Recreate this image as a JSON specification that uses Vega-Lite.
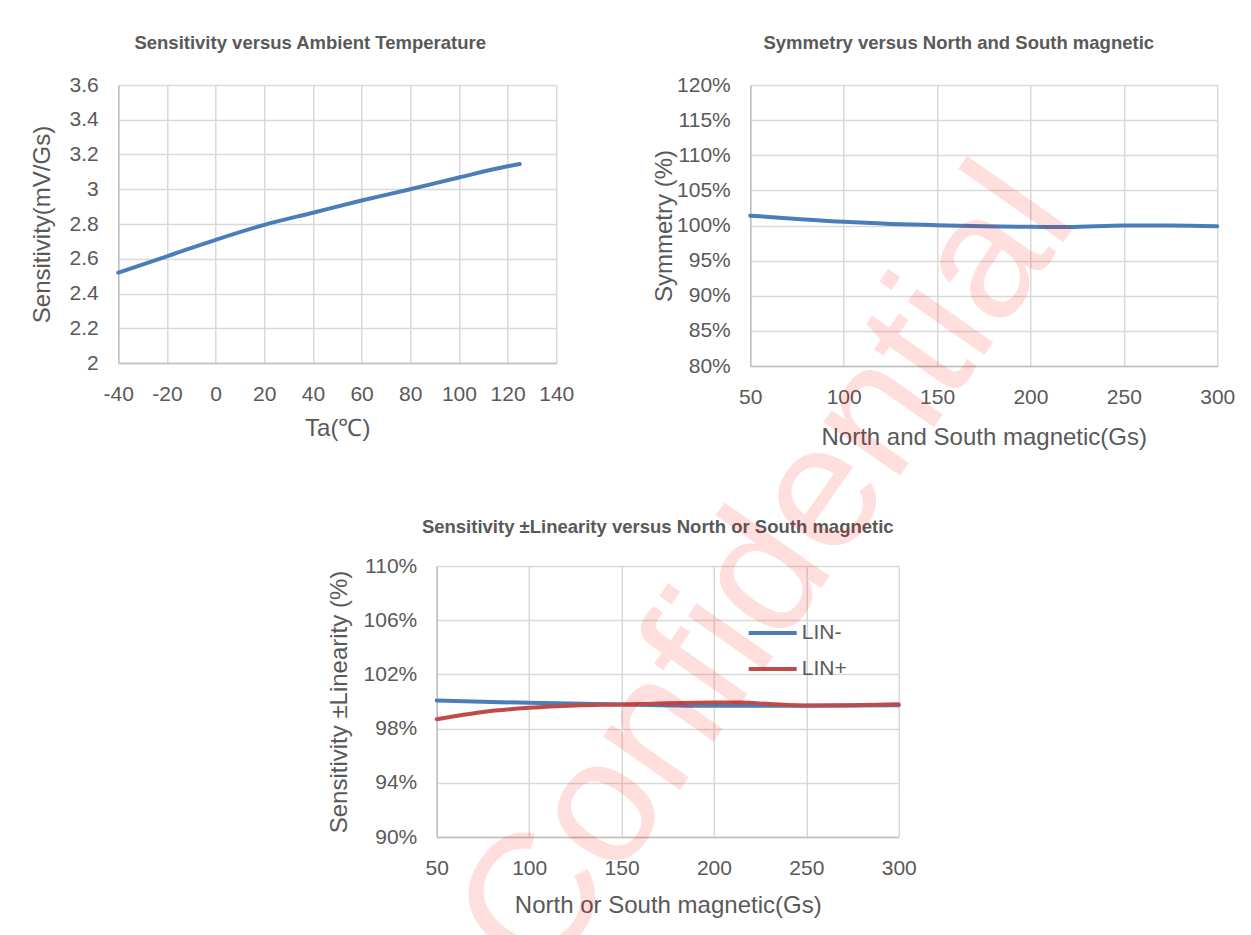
{
  "$schema": "https://vega.github.io/schema/vega-lite/v6.json",
  "background": "white",
  "padding": {"left": 30, "top": 33, "right": 5, "bottom": 5},
  "center": true,
  "spacing": 68,
  "resolve": {"scale": {"color": "independent"}, "legend": {"color": "independent"}},
  "title": {
    "text": "Confidential", "orient": "bottom", "anchor": "middle", "frame": "bounds",
    "offset": 0, "angle": -55, "fontSize": 177, "fontWeight": "normal",
    "color": "rgba(255,0,0,0.13)", "align": "center", "baseline": "alphabetic",
    "dx": 360, "dy": -34, "zindex": 1
  },
  "config": {
    "font": "Liberation Sans",
    "view": {"stroke": null},
    "axis": {
      "gridColor": "#d9d9d9", "gridWidth": 1.5,
      "domainColor": "#bfbfbf", "domainWidth": 1.5,
      "ticks": false, "labelOverlap": false, "labelFlush": false,
      "labelColor": "#595959", "labelFontSize": 21, "labelPadding": 20,
      "titleColor": "#595959", "titleFontSize": 24, "titleFontWeight": "normal"
    },
    "title": {"fontSize": 18.5, "fontWeight": "bold", "color": "#595959", "anchor": "middle", "frame": "group", "offset": 22},
    "line": {"strokeWidth": 4, "interpolate": "monotone", "strokeCap": "round"}
  },
  "datasets": {
    "temp": [
      {"ta": -40, "s": 2.52}, {"ta": -20, "s": 2.614}, {"ta": 0, "s": 2.709},
      {"ta": 20, "s": 2.795}, {"ta": 40, "s": 2.865}, {"ta": 60, "s": 2.935},
      {"ta": 80, "s": 3.0}, {"ta": 100, "s": 3.068}, {"ta": 120, "s": 3.132},
      {"ta": 125, "s": 3.145}
    ],
    "sym": [
      {"gs": 50, "v": 1.014}, {"gs": 75, "v": 1.0094}, {"gs": 100, "v": 1.0052},
      {"gs": 125, "v": 1.0023}, {"gs": 150, "v": 1.0005}, {"gs": 175, "v": 0.999},
      {"gs": 200, "v": 0.9981}, {"gs": 220, "v": 0.9978}, {"gs": 250, "v": 1.0},
      {"gs": 275, "v": 1.0}, {"gs": 300, "v": 0.999}
    ],
    "lin": [
      {"gs": 50, "series": "LIN-", "v": 1.0007}, {"gs": 100, "series": "LIN-", "v": 0.999},
      {"gs": 150, "series": "LIN-", "v": 0.9978}, {"gs": 200, "series": "LIN-", "v": 0.9968},
      {"gs": 250, "series": "LIN-", "v": 0.9968}, {"gs": 300, "series": "LIN-", "v": 0.9972},
      {"gs": 50, "series": "LIN+", "v": 0.9869}, {"gs": 75, "series": "LIN+", "v": 0.9923},
      {"gs": 100, "series": "LIN+", "v": 0.9953}, {"gs": 125, "series": "LIN+", "v": 0.997},
      {"gs": 150, "series": "LIN+", "v": 0.9978}, {"gs": 175, "series": "LIN+", "v": 0.9988},
      {"gs": 200, "series": "LIN+", "v": 0.9993}, {"gs": 215, "series": "LIN+", "v": 0.9992},
      {"gs": 230, "series": "LIN+", "v": 0.9982}, {"gs": 250, "series": "LIN+", "v": 0.9971},
      {"gs": 275, "series": "LIN+", "v": 0.9973}, {"gs": 300, "series": "LIN+", "v": 0.998}
    ]
  },
  "vconcat": [
    {
      "spacing": 78,
      "hconcat": [
        {
          "width": 438, "height": 278,
          "title": {"text": "Sensitivity versus Ambient Temperature", "dx": -27},
          "data": {"name": "temp"},
          "mark": {"type": "line", "color": "#4A7EBB"},
          "encoding": {
            "x": {"field": "ta", "type": "quantitative",
                  "scale": {"domain": [-40, 140], "nice": false, "zero": false},
                  "axis": {"values": [-40, -20, 0, 20, 40, 60, 80, 100, 120, 140], "labelExpr": "replace(datum.label, '−', '-')", "title": "Ta(℃)", "titlePadding": 12}},
            "y": {"field": "s", "type": "quantitative",
                  "scale": {"domain": [2, 3.6], "nice": false, "zero": false},
                  "axis": {"values": [2, 2.2, 2.4, 2.6, 2.8, 3, 3.2, 3.4, 3.6], "format": "~g", "title": "Sensitivity(mV/Gs)", "titlePadding": 15}}
          }
        },
        {
          "width": 467, "height": 281,
          "title": {"text": "Symmetry versus North and South magnetic", "dx": -25},
          "data": {"name": "sym"},
          "mark": {"type": "line", "color": "#4A7EBB"},
          "encoding": {
            "x": {"field": "gs", "type": "quantitative",
                  "scale": {"domain": [50, 300], "nice": false, "zero": false},
                  "axis": {"values": [50, 100, 150, 200, 250, 300], "title": "North and South magnetic(Gs)", "titlePadding": 18}},
            "y": {"field": "v", "type": "quantitative",
                  "scale": {"domain": [0.8, 1.2], "nice": false, "zero": false},
                  "axis": {"values": [0.8, 0.85, 0.9, 0.95, 1.0, 1.05, 1.1, 1.15, 1.2], "format": ".0%", "title": "Symmetry (%)", "titlePadding": 0}}
          }
        }
      ]
    },
    {
      "width": 462, "height": 271,
      "title": {"text": "Sensitivity ±Linearity versus North or South magnetic", "dx": -10, "offset": 19},
      "data": {"name": "lin"},
      "mark": {"type": "line"},
      "encoding": {
        "x": {"field": "gs", "type": "quantitative",
              "scale": {"domain": [50, 300], "nice": false, "zero": false},
              "axis": {"values": [50, 100, 150, 200, 250, 300], "title": "North or South magnetic(Gs)", "titlePadding": 15}},
        "y": {"field": "v", "type": "quantitative",
              "scale": {"domain": [0.9, 1.1], "nice": false, "zero": false},
              "axis": {"values": [0.9, 0.94, 0.98, 1.02, 1.06, 1.1], "format": ".0%", "title": "Sensitivity ±Linearity (%)", "titlePadding": 12}},
        "color": {"field": "series", "type": "nominal",
                  "scale": {"domain": ["LIN-", "LIN+"], "range": ["#4A7EBB", "#BE4B48"]},
                  "legend": {"title": null, "orient": "top-right", "offset": 52,
                             "symbolType": "stroke", "symbolStrokeWidth": 4, "symbolSize": 2304,
                             "clipHeight": 30, "rowPadding": 6, "labelOffset": 3,
                             "labelFontSize": 21, "labelColor": "#595959"}}
      }
    }
  ]
}
